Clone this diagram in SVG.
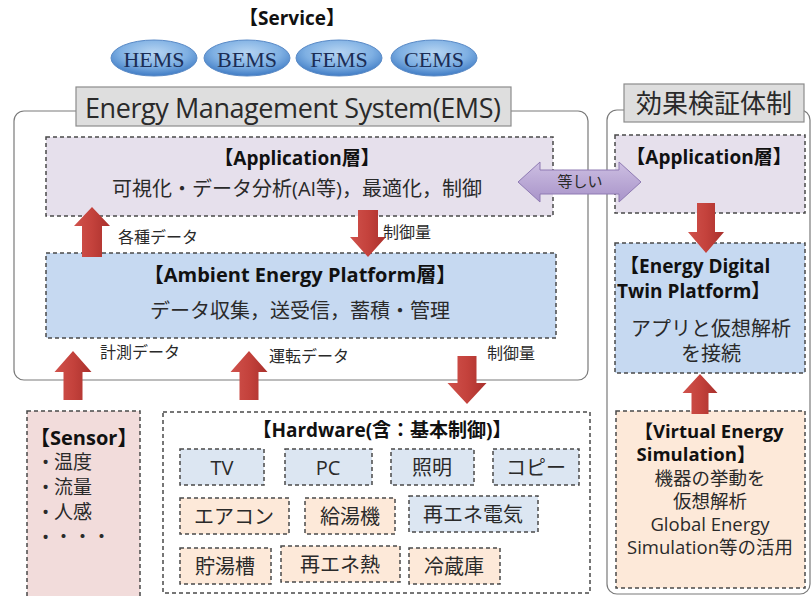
<svg xmlns="http://www.w3.org/2000/svg" width="812" height="596" viewBox="0 0 812 596">
  <defs>
    <style>
      text { font-family: "Open Sans", "Noto Sans CJK JP", sans-serif; fill: #2a2a2a; }
      .c { text-anchor: middle; dominant-baseline: central; }
      .l { text-anchor: start; dominant-baseline: central; }
      .b { font-weight: bold; fill: #111; }
      .t20 { font-size: 20px; }
      .t19 { font-size: 19px; }
      .t18 { font-size: 18.5px; }
      .t16 { font-size: 16px; }
      .t15 { font-size: 15px; }
      .frame { fill: #ffffff; stroke: #7a7a7a; stroke-width: 1.2; }
      .label { fill: #dedede; stroke: #8c8c8c; stroke-width: 1.2; }
      .dash { stroke: #4a4a4a; stroke-width: 1.5; stroke-dasharray: 4 3; }
      .lav { fill: #e6e0ec; }
      .blue { fill: #c6d9f1; }
      .lblue { fill: #dce6f2; }
      .peach { fill: #fde9d9; }
      .pink { fill: #f2dcdb; }
      .white { fill: #ffffff; }
      .svc { fill: url(#svcFill); stroke: #5a8ac6; stroke-width: 1; }
      .svct { font-family: "Liberation Serif", serif; font-size: 22px; fill: #1b2d55; }
      .red { fill: url(#redFill); }
    </style>
    <radialGradient id="svcFill" cx="50%" cy="35%" r="65%">
      <stop offset="0" stop-color="#b7d5f2"/>
      <stop offset="0.6" stop-color="#7fb0e3"/>
      <stop offset="1" stop-color="#3f7bc4"/>
    </radialGradient>
    <linearGradient id="redFill" x1="0" y1="0" x2="1" y2="0">
      <stop offset="0" stop-color="#d0524c"/>
      <stop offset="0.5" stop-color="#c4423c"/>
      <stop offset="1" stop-color="#a9302c"/>
    </linearGradient>
    <linearGradient id="purpleFill" x1="0" y1="0" x2="0" y2="1">
      <stop offset="0" stop-color="#cdbfe2"/>
      <stop offset="1" stop-color="#a893c9"/>
    </linearGradient>
  </defs>

  <!-- service row -->
  <g id="service">
    <text class="c b t19" x="292" y="18">【Service】</text>
    <g id="hems"><ellipse class="svc" cx="154" cy="58" rx="43" ry="18"/><text class="c svct" x="154" y="59">HEMS</text></g>
    <g id="bems"><ellipse class="svc" cx="247" cy="58" rx="43" ry="18"/><text class="c svct" x="247" y="59">BEMS</text></g>
    <g id="fems"><ellipse class="svc" cx="339" cy="58" rx="43" ry="18"/><text class="c svct" x="339" y="59">FEMS</text></g>
    <g id="cems"><ellipse class="svc" cx="434" cy="58" rx="43" ry="18"/><text class="c svct" x="434" y="59">CEMS</text></g>
  </g>

  <!-- EMS frame -->
  <g id="ems">
    <rect class="frame" x="14" y="111" width="574" height="269" rx="10"/>
    <rect class="label" x="76" y="87" width="435" height="39"/>
    <text class="c" x="293" y="107" font-size="27" textLength="416">Energy Management System(EMS)</text>
  </g>

  <!-- verification frame -->
  <g id="verification">
    <rect class="frame" x="607" y="110" width="203" height="484" rx="10"/>
    <rect class="label" x="624" y="84" width="180" height="38"/>
    <text class="c" x="714" y="103" font-size="26">効果検証体制</text>
  </g>

  <g id="application-layer">
    <rect class="lav dash" x="46" y="137" width="507" height="79"/>
    <text class="c b t19" x="297" y="158">【Application層】</text>
    <text class="c t20" x="297" y="188">可視化・データ分析(AI等)，最適化，制御</text>
  </g>

  <g id="ambient-layer">
    <rect class="blue dash" x="46" y="253" width="510" height="85"/>
    <text class="c b t20" x="300" y="274">【Ambient Energy Platform層】</text>
    <text class="c t20" x="300" y="310">データ収集，送受信，蓄積・管理</text>
  </g>

  <g id="sensor">
    <rect class="pink dash" x="27" y="411" width="113" height="200"/>
    <text class="l b t20" x="30" y="437">【Sensor】</text>
    <text class="l t19" x="42" y="462">• 温度</text>
    <text class="l t19" x="42" y="487">• 流量</text>
    <text class="l t19" x="42" y="512">• 人感</text>
    <text class="l t19" x="42" y="537">•  ・・・</text>
  </g>

  <g id="hardware">
    <rect class="white dash" x="163" y="412" width="427" height="181"/>
    <text class="c b t19" x="382" y="430">【Hardware(含：基本制御)】</text>
    <g id="hw-tv"><rect class="lblue dash" x="180" y="449" width="84" height="36"/><text class="c t20" x="222" y="467">TV</text></g>
    <g id="hw-pc"><rect class="lblue dash" x="285" y="449" width="87" height="36"/><text class="c t20" x="328" y="467">PC</text></g>
    <g id="hw-light"><rect class="lblue dash" x="391" y="449" width="83" height="36"/><text class="c t20" x="432" y="467">照明</text></g>
    <g id="hw-copy"><rect class="lblue dash" x="493" y="449" width="86" height="36"/><text class="c t20" x="536" y="467">コピー</text></g>
    <g id="hw-aircon"><rect class="peach dash" x="180" y="498" width="109" height="36"/><text class="c t20" x="234" y="516">エアコン</text></g>
    <g id="hw-boiler"><rect class="peach dash" x="305" y="498" width="90" height="36"/><text class="c t20" x="350" y="516">給湯機</text></g>
    <g id="hw-re-power"><rect class="lblue dash" x="409" y="496" width="129" height="36"/><text class="c t20" x="473" y="514">再エネ電気</text></g>
    <g id="hw-tank"><rect class="peach dash" x="180" y="548" width="91" height="36"/><text class="c t20" x="225" y="566">貯湯槽</text></g>
    <g id="hw-re-heat"><rect class="peach dash" x="281" y="546" width="119" height="36"/><text class="c t20" x="340" y="564">再エネ熱</text></g>
    <g id="hw-fridge"><rect class="peach dash" x="409" y="548" width="91" height="36"/><text class="c t20" x="454" y="566">冷蔵庫</text></g>
  </g>

  <g id="application-layer-verify">
    <rect class="lav dash" x="615" y="135" width="190" height="78"/>
    <text class="c b t19" x="709" y="157">【Application層】</text>
  </g>

  <g id="digital-twin">
    <rect class="blue dash" x="615" y="243" width="190" height="130"/>
    <text class="l b t19" x="620" y="266">【Energy Digital</text>
    <text class="l b t19" x="617" y="291">Twin Platform】</text>
    <text class="c t20" x="711" y="328">アプリと仮想解析</text>
    <text class="c t20" x="711" y="353">を接続</text>
  </g>

  <g id="virtual-sim">
    <rect class="peach dash" x="616" y="411" width="189" height="177"/>
    <text class="c b t18" x="709" y="430">【Virtual Energy</text>
    <text class="c b t18" x="696" y="453">Simulation】</text>
    <text class="c t18" x="710" y="477">機器の挙動を</text>
    <text class="c t18" x="710" y="500">仮想解析</text>
    <text class="c t18" x="710" y="523">Global Energy</text>
    <text class="c t18" x="710" y="546">Simulation等の活用</text>
  </g>

  <!-- connectors -->
  <g id="connectors">
    <g id="equal-arrow">
      <polygon points="518,182 540,162 540,170 619,170 619,162 641,182 619,202 619,194 540,194 540,202" fill="url(#purpleFill)" stroke="#8f7bb3" stroke-width="1"/>
      <text class="c t15" x="580" y="181">等しい</text>
    </g>
    <polygon class="red" points="92,207 110,226 102,226 102,257 82,257 82,226 74,226"/>
    <text class="l t16" x="118" y="237">各種データ</text>
    <polygon class="red" points="358,210 378,210 378,237 386,237 368,257 350,237 358,237"/>
    <text class="l t16" x="383" y="232">制御量</text>
    <polygon class="red" points="73,351 91.5,372 82.5,372 82.5,400 63.5,400 63.5,372 54.5,372"/>
    <text class="l t16" x="100" y="352">計測データ</text>
    <polygon class="red" points="249,351 267.5,372 258.5,372 258.5,400 239.5,400 239.5,372 230.5,372"/>
    <text class="l t16" x="269" y="356">運転データ</text>
    <polygon class="red" points="457.5,356 476.5,356 476.5,383 486.5,383 467,404 447.5,383 457.5,383"/>
    <text class="l t16" x="487" y="353">制御量</text>
    <polygon class="red" points="697,203 715,203 715,232 724,232 706,253 688,232 697,232"/>
    <polygon class="red" points="700,374 717.5,393 708.5,393 708.5,414 691.5,414 691.5,393 682.5,393"/>
  </g>
</svg>
